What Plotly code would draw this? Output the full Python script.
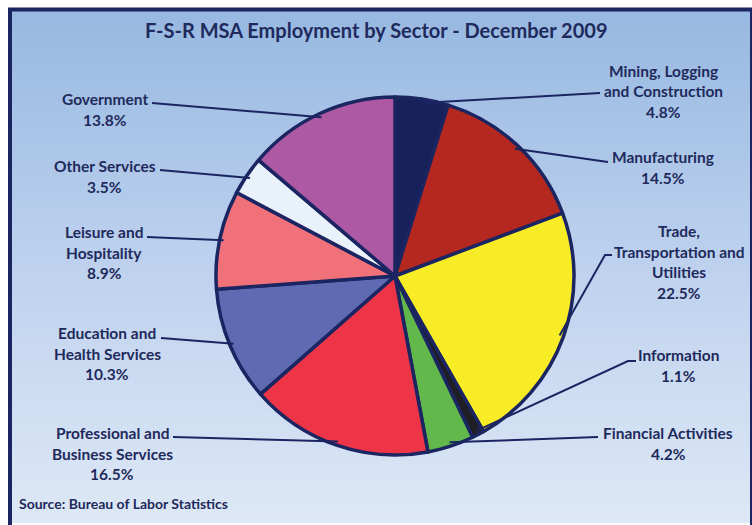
import math
import plotly.graph_objects as go

# Sector shares of F-S-R MSA employment, December 2009 (percent)
sectors = [
    "Mining, Logging\nand Construction",
    "Manufacturing",
    "Trade,\nTransportation and\nUtilities",
    "Information",
    "Financial Activities",
    "Professional and\nBusiness Services",
    "Education and\nHealth Services",
    "Leisure and\nHospitality",
    "Other Services",
    "Government",
]
shares = [4.8, 14.5, 22.5, 1.1, 4.2, 16.5, 10.3, 8.9, 3.5, 13.8]

slice_colors = [
    "#17215a", "#b5281f", "#f8ec27", "#1e1e24", "#62b84a",
    "#ee3447", "#5e6bb2", "#f07179", "#e9f2fb", "#ad59a3",
]

# Label placement (pixels): text centre x, first-line y, and leader path
# from the label side (elbow points first, the pie anchor is computed).
label_x = [663, 663, 679, 678, 668, 112, 107, 104, 105, 105]
label_y = [71, 157, 231, 355, 433, 433, 333, 232, 166, 99]
leader_ends = [
    [(600, 93)],
    [(608, 162)],
    [(612, 255), (605, 255)],
    [(636, 361), (628, 361)],
    [(598, 437)],
    [(173, 437)],
    [(161, 338)],
    [(147, 237)],
    [(160, 170)],
    [(152, 103)],
]

W, H = 752, 525
CX, CY, R = 395, 276, 179
NAVY = "#1b2561"
TEXT = "#1f2a5c"
FONT = "Lato"
LINE_GAP = 20.5


def px(x):
    return x / W


def py(y):
    return 1 - y / H


fig = go.Figure()

fig.add_trace(go.Pie(
    values=shares,
    labels=[s.replace("\n", " ") for s in sectors],
    sort=False,
    direction="clockwise",
    rotation=0,
    marker=dict(colors=slice_colors, line=dict(color=NAVY, width=3.5)),
    textinfo="none",
    hoverinfo="label+percent",
    showlegend=False,
    domain=dict(x=[px(CX - R), px(CX + R)], y=[py(CY + R), py(CY - R)]),
))

shapes = []

# vertical background gradient
stops = [(9, (151, 184, 225)), (270, (190, 210, 238)), (523, (222, 232, 246))]


def grad(y):
    for (y0, c0), (y1, c1) in zip(stops[:-1], stops[1:]):
        if y <= y1:
            t = (y - y0) / (y1 - y0)
            return tuple(round(a + (b - a) * t) for a, b in zip(c0, c1))
    return stops[-1][1]


step = 4
y = 9
while y < 523:
    c = grad(y + step / 2)
    shapes.append(dict(
        type="rect", xref="paper", yref="paper", layer="below",
        x0=px(10), x1=px(752), y0=py(min(y + step + 1, 523)), y1=py(y),
        line=dict(width=0), fillcolor=f"rgb{c}",
    ))
    y += step

# frame
shapes.append(dict(
    type="rect", xref="paper", yref="paper", layer="above",
    x0=px(10), x1=px(752), y0=py(540), y1=py(9.5),
    line=dict(color=NAVY, width=4), fillcolor="rgba(0,0,0,0)",
))

# leader lines from the middle of each slice to its label
total = sum(shares)
cum = 0.0
annotations = []
for i, v in enumerate(shares):
    theta = 2 * math.pi * (cum + v / 2) / total
    cum += v
    ax = CX + (R - 4) * math.sin(theta)
    ay = CY - (R - 4) * math.cos(theta)
    pts = [(ax, ay)] + list(reversed(leader_ends[i]))
    path = "M " + " L ".join(f"{px(x):.5f},{py(y):.5f}" for x, y in pts)
    shapes.append(dict(
        type="path", xref="paper", yref="paper", layer="above",
        path=path, line=dict(color=NAVY, width=2),
    ))
    lines = sectors[i].split("\n") + [f"{v:.1f}%"]
    for k, line in enumerate(lines):
        annotations.append(dict(
            x=px(label_x[i]), y=py(label_y[i] + k * LINE_GAP),
            xref="paper", yref="paper", xanchor="center", yanchor="middle",
            text=f"<b>{line}</b>", showarrow=False,
            font=dict(family=FONT, size=15.5, color=TEXT),
        ))

annotations.append(dict(
    x=px(376), y=py(30), xref="paper", yref="paper",
    xanchor="center", yanchor="middle", showarrow=False,
    text="<b>F-S-R MSA Employment by Sector - December 2009</b>",
    font=dict(family=FONT, size=20, color=TEXT),
))
annotations.append(dict(
    x=px(17), y=py(503), xref="paper", yref="paper",
    xanchor="left", yanchor="middle", showarrow=False,
    text="<b>Source: Bureau of Labor Statistics</b>",
    font=dict(family=FONT, size=14, color=TEXT),
))

fig.update_layout(
    width=W, height=H,
    margin=dict(l=0, r=0, t=0, b=0),
    paper_bgcolor="white",
    plot_bgcolor="white",
    shapes=shapes,
    annotations=annotations,
)

fig.write_html("out.html", config={"displayModeBar": False})
